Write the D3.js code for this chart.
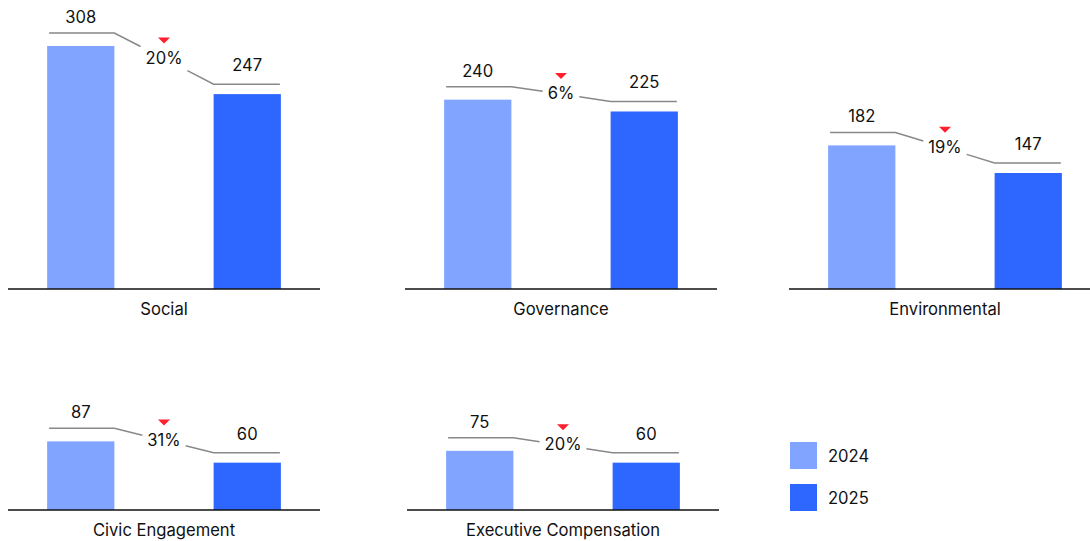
<!DOCTYPE html>
<html>
<head>
<meta charset="utf-8">
<script src="https://cdn.jsdelivr.net/npm/d3@7"></script>
<style>
  html, body { margin: 0; padding: 0; background: #fff; }
  svg { display: block; }
  text { font-family: Inter, "Noto Sans", sans-serif; fill: #111; }
</style>
</head>
<body>
<script>
const categories = ["Social", "Governance", "Environmental", "Civic Engagement", "Executive Compensation"];
const years = ["2024", "2025"];
const values2024 = [308, 240, 182, 87, 75];
const values2025 = [247, 225, 147, 60, 60];

const W = 1090, H = 541;
const colors = { "2024": "#80a4ff", "2025": "#2d67ff" };
const FS = 16.6;

const svg = d3.select("body").append("svg").attr("width", W).attr("height", H);

// panel layout: left edge and baseline of each small multiple
const panels = [
  { x0: 8, base: 289 },
  { x0: 405, base: 289 },
  { x0: 789, base: 289 },
  { x0: 8, base: 510 },
  { x0: 407, base: 510 }
];
const panelW = 312;

const x = d3.scaleBand().domain(years).range([0, panelW]).paddingInner(0.596).paddingOuter(0.235);
const yLen = d3.scaleLinear().domain([0, 308]).range([0, 243]);

categories.forEach((cat, i) => {
  const p = panels[i];
  const g = svg.append("g").attr("transform", `translate(${p.x0},0)`);
  const vals = [values2024[i], values2025[i]];
  const y = v => p.base - yLen(v);

  // bars
  g.selectAll("rect.bar").data(years).join("rect")
    .attr("class", "bar")
    .attr("x", d => x(d))
    .attr("width", x.bandwidth())
    .attr("y", (d, j) => y(vals[j]))
    .attr("height", (d, j) => yLen(vals[j]))
    .attr("fill", d => colors[d]);

  // baseline
  g.append("line")
    .attr("x1", 0).attr("x2", panelW)
    .attr("y1", p.base).attr("y2", p.base)
    .attr("stroke", "#111").attr("stroke-width", 1.5);

  // category label
  g.append("text")
    .attr("x", panelW / 2).attr("y", p.base + 20)
    .attr("text-anchor", "middle").attr("dominant-baseline", "central")
    .attr("font-size", FS).text(cat);

  // value labels
  g.selectAll("text.val").data(years).join("text")
    .attr("class", "val")
    .attr("x", d => x(d) + x.bandwidth() / 2)
    .attr("y", (d, j) => y(vals[j]) - 29)
    .attr("text-anchor", "middle").attr("dominant-baseline", "central")
    .attr("font-size", FS)
    .text((d, j) => vals[j]);

  // connector
  const ax = x("2024"), aR = x("2024") + x.bandwidth();
  const bx = x("2025"), bR = x("2025") + x.bandwidth();
  const ay = y(vals[0]) - 13, by = y(vals[1]) - 10;
  const cx = panelW / 2;
  const yAt = xx => ay + (by - ay) * (xx - aR) / (bx - aR);
  const cy = yAt(cx);

  const pct = Math.round(Math.abs((vals[1] - vals[0]) / vals[0]) * 100) + "%";
  const t = g.append("text")
    .attr("x", cx).attr("y", cy - 1)
    .attr("text-anchor", "middle").attr("dominant-baseline", "central")
    .attr("font-size", FS).text(pct);
  const tw = t.node().getComputedTextLength();
  const g1 = cx - tw / 2 - 5, g2 = cx + tw / 2 + 5;

  const line = d3.line();
  g.append("path")
    .attr("d", line([[ax + 2, ay], [aR, ay], [g1, yAt(g1)]]))
    .attr("fill", "none").attr("stroke", "#888").attr("stroke-width", 1.5);
  g.append("path")
    .attr("d", line([[g2, yAt(g2)], [bx, by], [bR - 1, by]]))
    .attr("fill", "none").attr("stroke", "#888").attr("stroke-width", 1.5);

  // red down triangle
  const ty = cy - 21;
  g.append("path")
    .attr("d", `M${cx - 6},${ty} L${cx + 6},${ty} L${cx},${ty + 6} Z`)
    .attr("fill", "#ff1f2d");
});

// legend
const legend = svg.append("g").attr("transform", "translate(790,442)");
years.forEach((yr, j) => {
  const lg = legend.append("g").attr("transform", `translate(0,${j * 42})`);
  lg.append("rect").attr("width", 27).attr("height", 27).attr("fill", colors[yr]);
  lg.append("text").attr("x", 38).attr("y", 14)
    .attr("dominant-baseline", "central").attr("font-size", FS).text(yr);
});
</script>
</body>
</html>
